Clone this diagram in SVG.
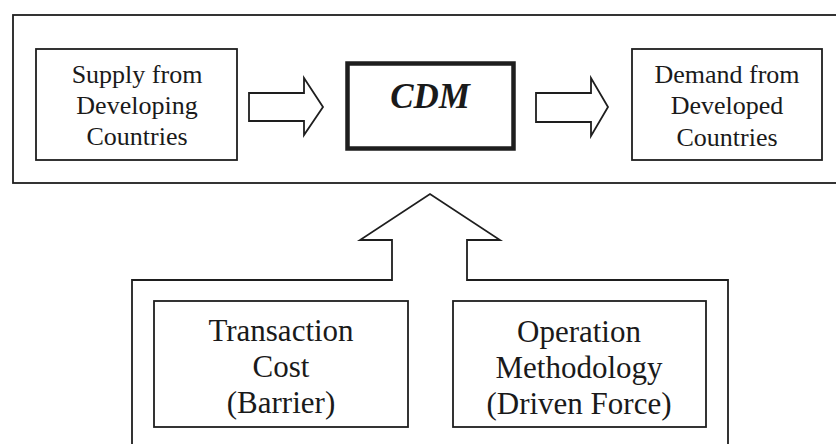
<svg xmlns="http://www.w3.org/2000/svg" width="836" height="444" viewBox="0 0 836 444">
  <style>
    .line { fill: none; stroke: #1e1e1e; stroke-width: 1.8; }
    .box { fill: #ffffff; stroke: #1e1e1e; stroke-width: 1.8; }
    .arrow { fill: #ffffff; stroke: #1e1e1e; stroke-width: 1.8; stroke-linejoin: miter; }
    .t26 { font-family: "Liberation Serif", "Times New Roman", serif; font-size: 26px; fill: #1a1a1a; text-anchor: middle; }
    .t31 { font-family: "Liberation Serif", "Times New Roman", serif; font-size: 31px; fill: #1a1a1a; text-anchor: middle; }
    .cdm { font-family: "Liberation Serif", "Times New Roman", serif; font-size: 35px; font-weight: bold; font-style: italic; fill: #1a1a1a; text-anchor: middle; }
  </style>
  <rect width="836" height="444" fill="#ffffff"/>

  <!-- market frame around the top row -->
  <g id="market-frame">
    <rect class="line" x="13" y="15" width="830" height="168"/>
  </g>

  <g id="supply">
    <rect class="box" x="36" y="49" width="201" height="111"/>
    <text class="t26" x="137" y="83">Supply from</text>
    <text class="t26" x="137" y="114">Developing</text>
    <text class="t26" x="137" y="145">Countries</text>
  </g>

  <g id="cdm">
    <rect x="347.5" y="63.5" width="166" height="85" fill="#ffffff" stroke="#1e1e1e" stroke-width="4.5"/>
    <text class="cdm" x="430" y="108">CDM</text>
  </g>

  <g id="demand">
    <rect class="box" x="632" y="49" width="190" height="111"/>
    <text class="t26" x="727" y="83">Demand from</text>
    <text class="t26" x="727" y="114">Developed</text>
    <text class="t26" x="727" y="146">Countries</text>
  </g>

  <!-- factors frame with the upward block arrow merged into its top edge -->
  <g id="factors-frame">
    <path class="arrow" d="M132,446 L132,280 L392,280 L392,240 L360,240 L430,194 L500,240 L467,240 L467,280 L728,280 L728,446"/>
  </g>

  <g id="transaction-cost">
    <rect class="box" x="154" y="301" width="254" height="126"/>
    <text class="t31" x="281" y="341">Transaction</text>
    <text class="t31" x="281" y="377">Cost</text>
    <text class="t31" x="281" y="413">(Barrier)</text>
  </g>

  <g id="operation-methodology">
    <rect class="box" x="453" y="301" width="253" height="126"/>
    <text class="t31" x="579" y="342">Operation</text>
    <text class="t31" x="579" y="378">Methodology</text>
    <text class="t31" x="579" y="414">(Driven Force)</text>
  </g>

  <!-- block arrows along the top row -->
  <g id="connectors">
    <path class="arrow" d="M249,93 L304,93 L304,78 L323,107 L304,135 L304,121 L249,121 Z"/>
    <path class="arrow" d="M536,93 L591,93 L591,78 L608,107 L591,136 L591,122 L536,122 Z"/>
  </g>
</svg>
